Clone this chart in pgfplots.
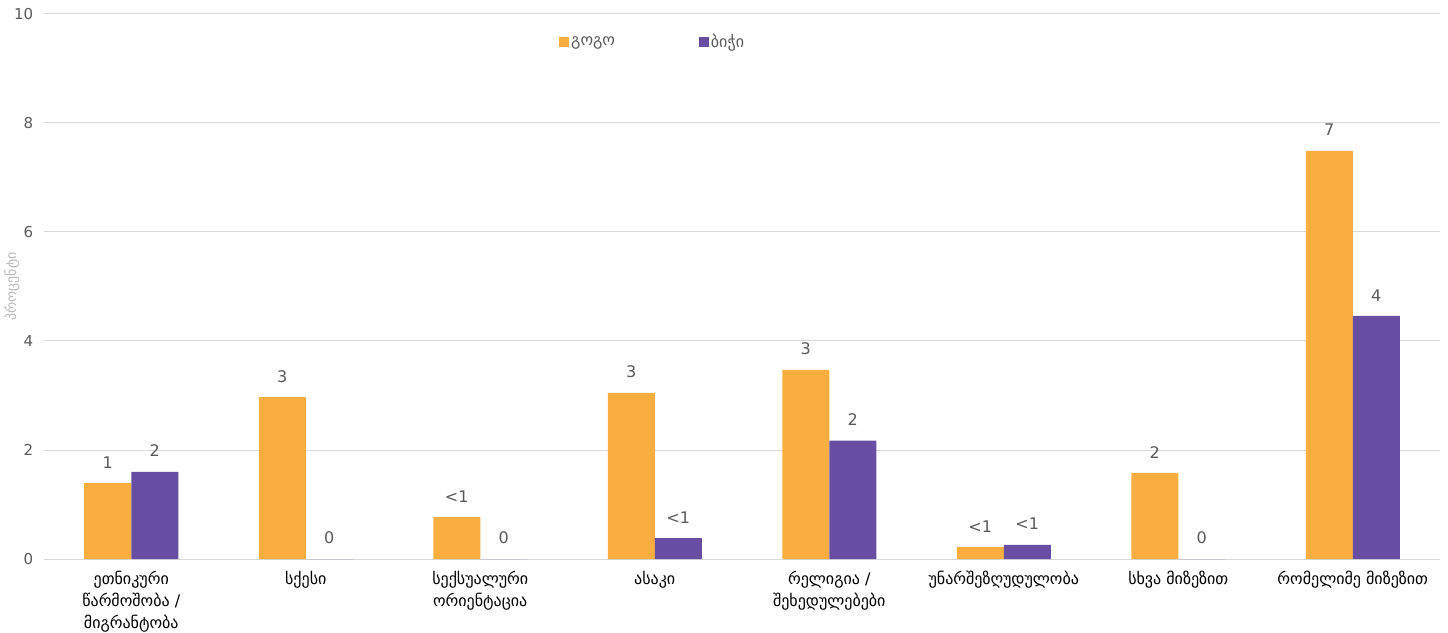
\documentclass[border=0pt]{standalone}
\usepackage{pgfplots}
\pgfplotsset{compat=1.18}
\usepackage{fontspec}
\setmainfont{DejaVu Sans}
\definecolor{girl}{HTML}{FBAE40}
\definecolor{boy}{HTML}{684EA2}
\definecolor{txt}{HTML}{595959}
\definecolor{gridc}{HTML}{D9D9D9}
\begin{document}
\fontsize{14}{17}\selectfont
\begin{tikzpicture}
\begin{axis}[
  scale only axis,
  width=1396pt, height=545pt,
  xmin=-0.5, xmax=7.5, ymin=0, ymax=10,
  ytick={0,2,4,6,8,10},
  xtick={0,...,7},
  xticklabels={{ეთნიკური\\წარმოშობა /\\მიგრანტობა},{სქესი},{სექსუალური\\ორიენტაცია},{ასაკი},{რელიგია /\\შეხედულებები},{უნარშეზღუდულობა},{სხვა მიზეზით},{რომელიმე მიზეზით}},
  xticklabel style={align=center, font=\fontsize{16}{22}\selectfont, text=black, anchor=north, yshift=-7pt},
  yticklabel style={font=\fontsize{15}{17}\selectfont, text=txt, xshift=-6pt},
  /pgf/number format/assume math mode=true,
  major tick length=0pt,
  axis line style={draw=none},
  ymajorgrids, grid style={gridc, line width=1pt},
  ybar, bar width=47pt,
  ylabel={პროცენტი},
  ylabel style={font=\fontsize{14}{16}\selectfont, text=gray!55, at={(axis description cs:-0.0229,0.5)}, anchor=center},
  nodes near coords,
  point meta=explicit symbolic,
  every node near coord/.append style={font=\fontsize{16}{18}\selectfont, text=txt, yshift=10pt},
  legend style={draw=none, at={(0.436,0.949)}, anchor=center, legend columns=2, font=\fontsize{16}{18}\selectfont, text=txt, /tikz/every even column/.append style={column sep=82pt}},
  legend image code/.code={\fill[#1] (0pt,-5pt) rectangle (10pt,5pt);},
]
\addplot[fill=girl, draw=none, bar shift=-23.5pt] coordinates {
 (0,1.39) [1] (1,2.97) [3] (2,0.77) [<1] (3,3.05) [3] (4,3.47) [3] (5,0.22) [<1] (6,1.58) [2] (7,7.49) [7]};
\addplot[fill=boy, draw=none, bar shift=23.5pt] coordinates {
 (0,1.60) [2] (1,0) [0] (2,0) [0] (3,0.385) [<1] (4,2.17) [2] (5,0.26) [<1] (6,0) [0] (7,4.46) [4]};
\legend{გოგო, ბიჭი}
\end{axis}
\pgfresetboundingbox
\useasboundingbox ([xshift=-44pt,yshift=-73pt]current axis.south west) rectangle ([xshift=8pt,yshift=14pt]current axis.north east);
\end{tikzpicture}
\end{document}
